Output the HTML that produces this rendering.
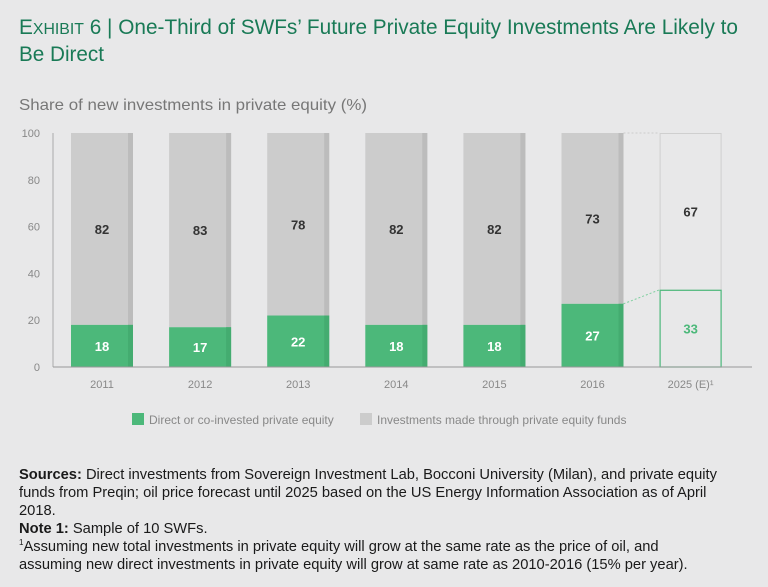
<!DOCTYPE html>
<html><head><meta charset="utf-8"><style>
body{margin:0;background:#e8e8e9;width:768px;height:587px;overflow:hidden;font-family:"Liberation Sans",sans-serif}
svg{position:absolute;left:0;top:0}
.notes{position:absolute;left:19px;top:466px;width:724px;font-size:14.7px;line-height:18px;color:#1a1a1a;letter-spacing:0}
.notes sup{font-size:8px;line-height:0;vertical-align:6px}
</style></head><body>
<svg id="chart" width="768" height="587">
<text x="19" y="34" font-size="21" fill="#197a56" textLength="719" lengthAdjust="spacingAndGlyphs">E<tspan font-size="16">XHIBIT</tspan> 6 | One-Third of SWFs’ Future Private Equity Investments Are Likely to</text>
<text x="19" y="61" font-size="21" fill="#197a56" textLength="85" lengthAdjust="spacingAndGlyphs">Be Direct</text>
<text x="19" y="110" font-size="16" fill="#777" textLength="348" lengthAdjust="spacingAndGlyphs">Share of new investments in private equity (%)</text>
<g id="plot"></g>
<rect x="132" y="413" width="12" height="12" fill="#4cb87a"/>
<text x="149" y="424" font-size="12" fill="#888">Direct or co-invested private equity</text>
<rect x="360" y="413" width="12" height="12" fill="#cccccc"/>
<text x="377" y="424" font-size="12" fill="#888">Investments made through private equity funds</text>
</svg>
<div class="notes">
<b>Sources:</b> Direct investments from Sovereign Investment Lab, Bocconi University (Milan), and private equity funds from Preqin; oil price forecast until 2025 based on the US Energy Information Association as of April 2018.<br>
<b>Note 1:</b> Sample of 10 SWFs.<br>
<sup>1</sup>Assuming new total investments in private equity will grow at the same rate as the price of oil, and<br>assuming new direct investments in private equity will grow at same rate as 2010-2016 (15% per year).
</div>
<script>
const categories=["2011","2012","2013","2014","2015","2016","2025 (E)"];
const direct=[18,17,22,18,18,27,33];
const funds=[82,83,78,82,82,73,67];
const yTicks=[0,20,40,60,80,100];
const NS="http://www.w3.org/2000/svg";
const g=document.getElementById('plot');
const y0=367,y1=133;
function y(v){return y0-(v/100)*(y0-y1);}
function xc(i){return 102+i*98.1;}
const bw=62;
function mk(t,a){const e=document.createElementNS(NS,t);for(const k in a)e.setAttribute(k,a[k]);g.appendChild(e);return e;}
yTicks.forEach(t=>{
 const e=mk('text',{x:40,y:y(t)+4,'font-size':11,fill:'#888','text-anchor':'end'});e.textContent=t;
 
 
});
const ax=mk('line',{x1:53,y1:y1,x2:53,y2:y0,stroke:'#aaa','stroke-width':1});


const last=categories.length-1;
categories.forEach((c,i)=>{
 const x=xc(i)-bw/2;
 const tot=direct[i]+funds[i];
 if(i<last){
  const f=mk('rect',{x:x,y:y(tot),width:bw,height:y(direct[i])-y(tot),fill:'#cccccc'});
  
  
  mk('rect',{x:x+bw-5,y:y(tot),width:5,height:y(direct[i])-y(tot),fill:'#bcbcbc'});
  const d=mk('rect',{x:x,y:y(direct[i]),width:bw,height:y0-y(direct[i]),fill:'#4cb87a'});
  
  
  mk('rect',{x:x+bw-5,y:y(direct[i]),width:5,height:y0-y(direct[i]),fill:'#44ac70'});
 } else {
  const f=mk('rect',{x:x+0.5,y:y(tot)+0.5,width:bw-1,height:y(direct[i])-y(tot),fill:'none',stroke:'#cfcfcf'});
  
  
  const d=mk('rect',{x:x+0.5,y:y(direct[i])+0.5,width:bw-1,height:y0-y(direct[i])-0.5,fill:'none',stroke:'#4cb87a','stroke-width':1.2});
  
  
  const p=xc(i-1)+bw/2;
  mk('line',{x1:p,y1:y(direct[i-1]+funds[i-1]),x2:x,y2:y(tot),stroke:'#ccc','stroke-dasharray':'2,2'});
  mk('line',{x1:p,y1:y(direct[i-1]),x2:x,y2:y(direct[i]),stroke:'#7fcf9f','stroke-dasharray':'2,2'});
 }
 const tf=mk('text',{x:xc(i),y:(y(tot)+y(direct[i]))/2+5,'font-size':13,'font-weight':'bold',fill:'#333','text-anchor':'middle'});
 tf.textContent=funds[i];
 
 
 const td=mk('text',{x:xc(i),y:(y0+y(direct[i]))/2+5,'font-size':13,'font-weight':'bold',fill:i==last?'#4cb87a':'#fff','text-anchor':'middle'});
 td.textContent=direct[i];
 
 
 const xl=mk('text',{x:xc(i),y:388,'font-size':11,fill:'#888','text-anchor':'middle'});
 xl.textContent=c+(i==last?'¹':'');
 
 
});
const bx=mk('line',{x1:53,y1:y0,x2:752,y2:y0,stroke:'#999','stroke-width':1});


</script>
</body></html>
